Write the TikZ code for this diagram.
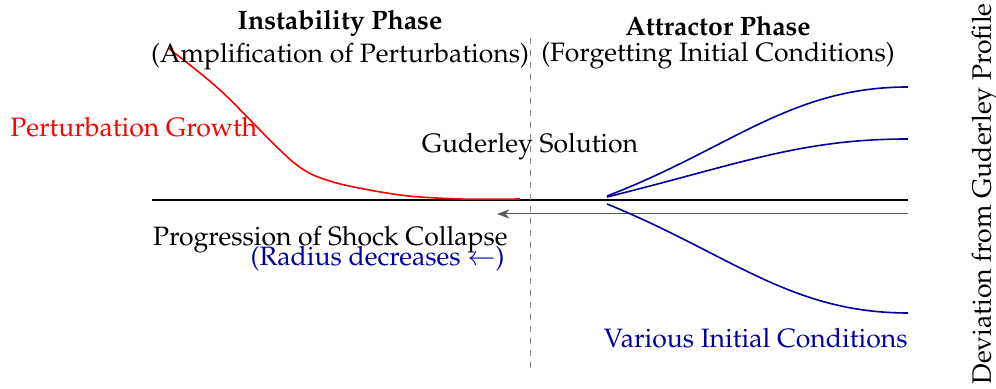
\documentclass[tikz,border=0pt]{standalone}
\usepackage[T1]{fontenc}
\usepackage{mathpazo}
\usetikzlibrary{positioning,arrows.meta}
\definecolor{attblue}{RGB}{0,0,160}

\begin{document}
\begin{tikzpicture}[x=0.5pt, y=0.5pt,
    every node/.style={font=\fontsize{13.3}{16}\selectfont, inner sep=0pt},
    head/.style={font=\fontsize{13.3}{16}\selectfont\bfseries},
    base/.style={line width=0.8pt, black},
    pert/.style={line width=0.8pt, red},
    ic/.style={line width=0.8pt, attblue},
    arr/.style={-{Stealth[length=2.2mm, width=1.6mm]}, black!65, line width=0.5pt}]
    \useasboundingbox (0,0) rectangle (996,389);
    % axis and time direction
    \coordinate (axL) at (152,189);  \coordinate (axR) at (908,189);
    \coordinate (tR) at (908,175);   \coordinate (tL) at (497,175);
    \draw[base] (axL) -- (axR);
    \draw[arr] (tR) -- (tL);
    % phase boundary
    \coordinate (divT) at (530,351);  \coordinate (divB) at (530,19);
    \draw[black!45, dashed, line width=0.5pt] (divT) -- (divB);
    % growing perturbation
    \draw[pert] plot[smooth, tension=0.5] coordinates
        {(168,341) (220,299) (293,227) (333,207) (400,194) (460,190) (520,190)};
    % converging initial conditions
    \draw[ic] (607,193) .. controls (730,240) and (790,302) .. (908,302);
    \draw[ic] (607,192) .. controls (740,225) and (800,250) .. (908,250);
    \draw[ic] (607,185) .. controls (730,135) and (790,76) .. (908,76);
    % labels
    \node[head] (ph1) at (340,366) {Instability Phase};
    \node[below=3pt of ph1] (ph1s) {(Amplification of Perturbations)};
    \node[head] (ph2) at (718,363) {Attractor Phase};
    \node[below=3pt of ph2] (ph2s) {(Forgetting Initial Conditions)};
    \node[anchor=west, text=red] (pg) at (10,262) {Perturbation Growth};
    \node (gs) at (530,242) {Guderley Solution};
    \node[anchor=east] (prog) at (508,149) {Progression of Shock Collapse};
    \node[anchor=east, text=attblue] (rad) at (505,130) {(Radius decreases $\leftarrow$)};
    \node[anchor=east, text=attblue] (vic) at (908,51) {Various Initial Conditions};
    \node[rotate=90] (dev) at (985,195) {Deviation from Guderley Profile};
\end{tikzpicture}
\end{document}
